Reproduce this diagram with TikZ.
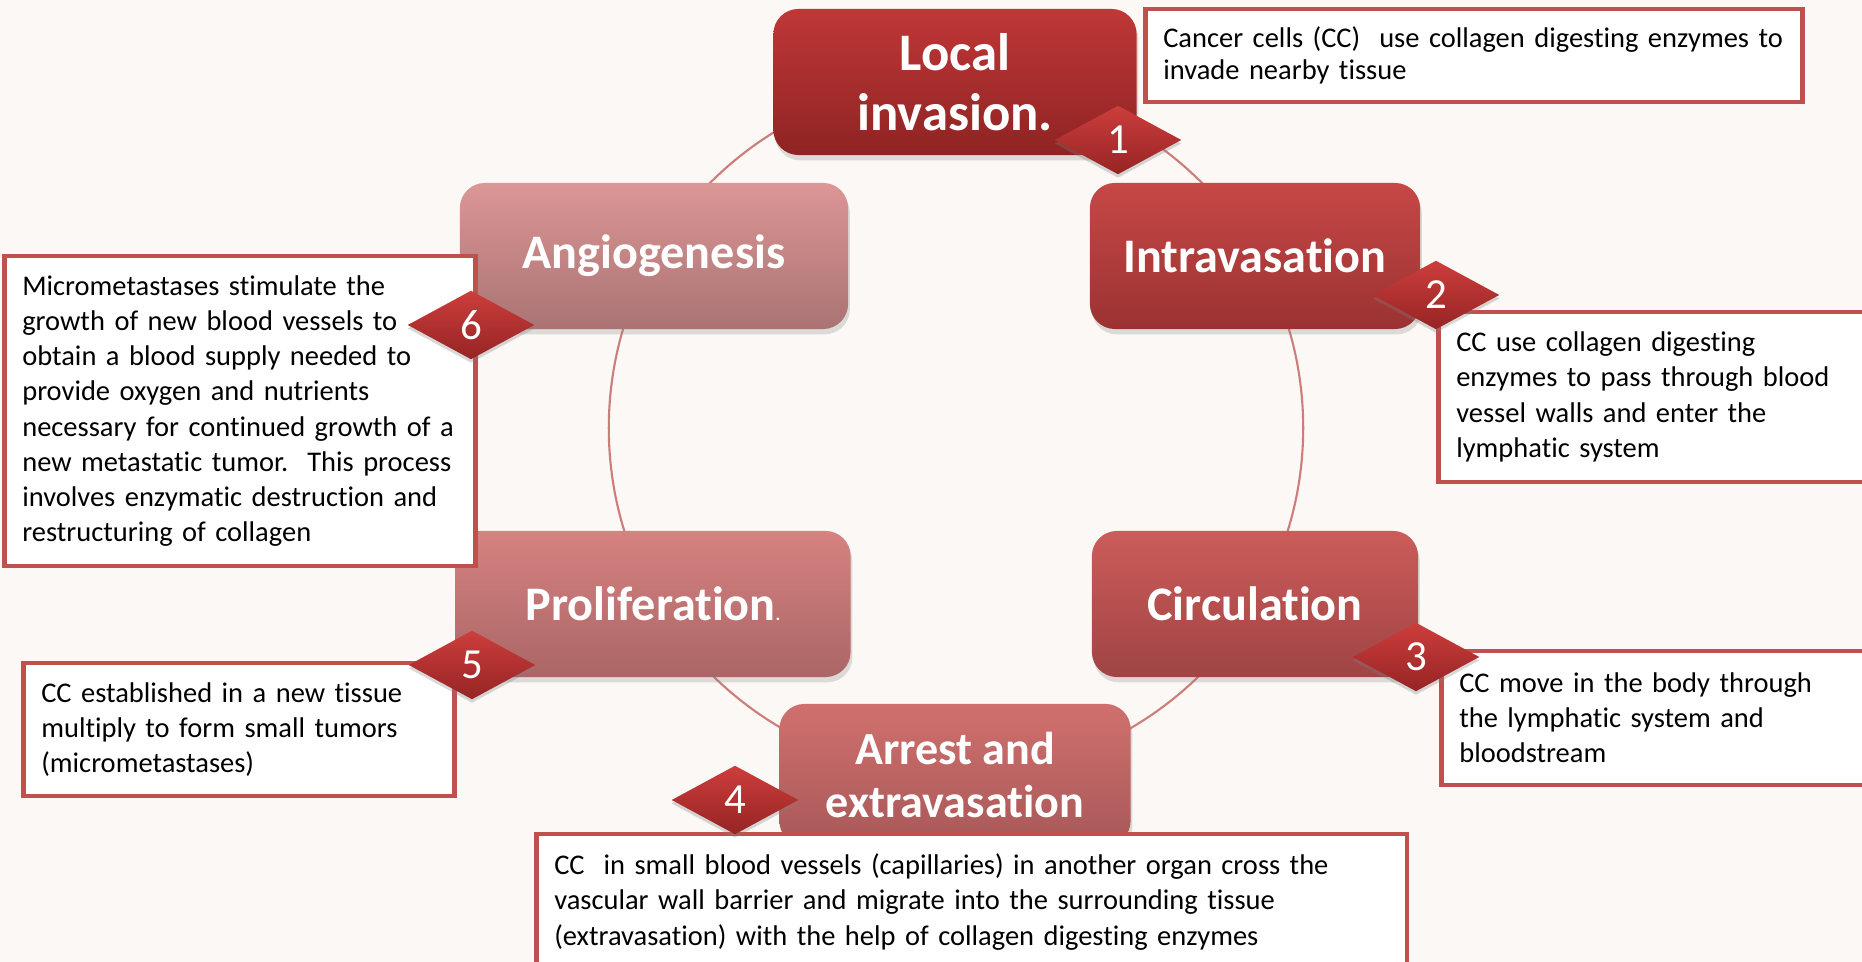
\documentclass[tikz,border=0pt]{standalone}
\usepackage{fontspec}
\setmainfont{Carlito}[Ligatures=NoCommon]
\usetikzlibrary{shapes.geometric,shadows}

\definecolor{pagebg}{RGB}{251,248,245}
\definecolor{noteline}{RGB}{192,80,77}
\definecolor{ringline}{RGB}{205,125,122}
\definecolor{badgetop}{RGB}{204,62,60}
\definecolor{badgebot}{RGB}{150,36,36}

\tikzset{
  stage/.style={rounded corners=0.25cm, minimum height=1.46cm, text=white,
    font=\fontsize{13.7}{15}\selectfont\bfseries, align=center,
    drop shadow={opacity=0.25, shadow xshift=0.5pt, shadow yshift=-1.5pt}},
  note/.style={draw=noteline, line width=1.3pt, fill=white, align=left,
    inner xsep=0.18cm, anchor=west, font=\fontsize{8.1}{10}\selectfont,
    drop shadow={opacity=0.2, shadow xshift=0.6pt, shadow yshift=-0.6pt}},
  badge/.style={diamond, aspect=1.84, minimum width=1.27cm, minimum height=0.69cm,
    inner sep=0pt, top color=badgetop, bottom color=badgebot, text=white,
    font=\fontsize{12.2}{14}\selectfont,
    drop shadow={opacity=0.3, shadow xshift=0pt, shadow yshift=-1pt}}
}

\begin{document}
\begin{tikzpicture}[x=0.01cm, y=-0.01cm]
    \clip (0,0) rectangle (1862,962);
    \fill[pagebg] (0,0) rectangle (1862,962);

    % ring behind the six stages
    \draw[ringline, line width=0.6pt] (956,428) circle [radius=3.47cm];

    % stages
    \node (invasion) [stage, minimum width=3.63cm, top color={rgb,255:red,192;green,55;blue,55}, bottom color={rgb,255:red,143;green,35;blue,35}, font=\fontsize{15}{17}\selectfont\bfseries] at (955,82) {Local\\invasion.};
    \node (intravasation) [stage, minimum width=3.30cm, top color={rgb,255:red,198;green,72;blue,70}, bottom color={rgb,255:red,155;green,50;blue,50}] at (1255,256) {Intravasation};
    \node (circulation) [stage, minimum width=3.26cm, top color={rgb,255:red,203;green,92;blue,90}, bottom color={rgb,255:red,160;green,68;blue,68}] at (1255,604) {Circulation};
    \node (arrest) [stage, minimum width=3.51cm, minimum height=1.42cm, top color={rgb,255:red,208;green,112;blue,110}, bottom color={rgb,255:red,168;green,88;blue,88}, font=\fontsize{13.1}{14.8}\selectfont\bfseries] at (955,775) {Arrest and\\extravasation};
    \node (proliferation) [stage, minimum width=3.95cm, top color={rgb,255:red,214;green,130;blue,128}, bottom color={rgb,255:red,170;green,102;blue,102}] at (653,604) {Proliferation{\fontsize{5}{5}\selectfont.}};
    \node (angiogenesis) [stage, minimum width=3.88cm, top color={rgb,255:red,220;green,150;blue,150}, bottom color={rgb,255:red,170;green,115;blue,115}] at (654,256) {Angiogenesis};

    % notes
    \node (note1) [note, minimum width=6.57cm, minimum height=0.93cm, text width=6.21cm, font=\fontsize{8.1}{9}\selectfont] at (1143,55.5) {Cancer cells (CC)\ \ use collagen digesting enzymes to\\invade nearby tissue};
    \node (note2) [note, minimum width=4.54cm, minimum height=1.70cm, text width=4.18cm] at (1436,397) {CC use collagen digesting\\enzymes to pass through blood\\vessel walls and enter the\\lymphatic system};
    \node (note3) [note, minimum width=4.50cm, minimum height=1.34cm, text width=4.14cm] at (1439,718) {CC move in the body through\\the lymphatic system and\\bloodstream};
    \node (note4) [note, minimum width=8.70cm, minimum height=1.36cm, text width=8.34cm] at (534,902) {CC\ \ in small blood vessels (capillaries) in another organ cross the\\vascular wall barrier and migrate into the surrounding tissue\\(extravasation) with the help of collagen digesting enzymes};
    \node (note5) [note, minimum width=4.31cm, minimum height=1.33cm, text width=3.95cm] at (21,729.5) {CC established in a new tissue\\multiply to form small tumors\\(micrometastases)};
    \node (note6) [note, minimum width=4.71cm, minimum height=3.10cm, text width=4.35cm] at (2,411) {Micrometastases stimulate the\\growth of new blood vessels to\\obtain a blood supply needed to\\provide oxygen and nutrients\\necessary for continued growth of a\\new metastatic tumor.\ \ This process\\involves enzymatic destruction and\\restructuring of collagen};

    % step numbers
    \node (num1) [badge] at (1118,140) {1};
    \node (num2) [badge] at (1436,295) {2};
    \node (num3) [badge] at (1416,657) {3};
    \node (num4) [badge] at (735,800) {4};
    \node (num5) [badge] at (472,665) {5};
    \node (num6) [badge] at (471,325) {6};
\end{tikzpicture}
\end{document}
